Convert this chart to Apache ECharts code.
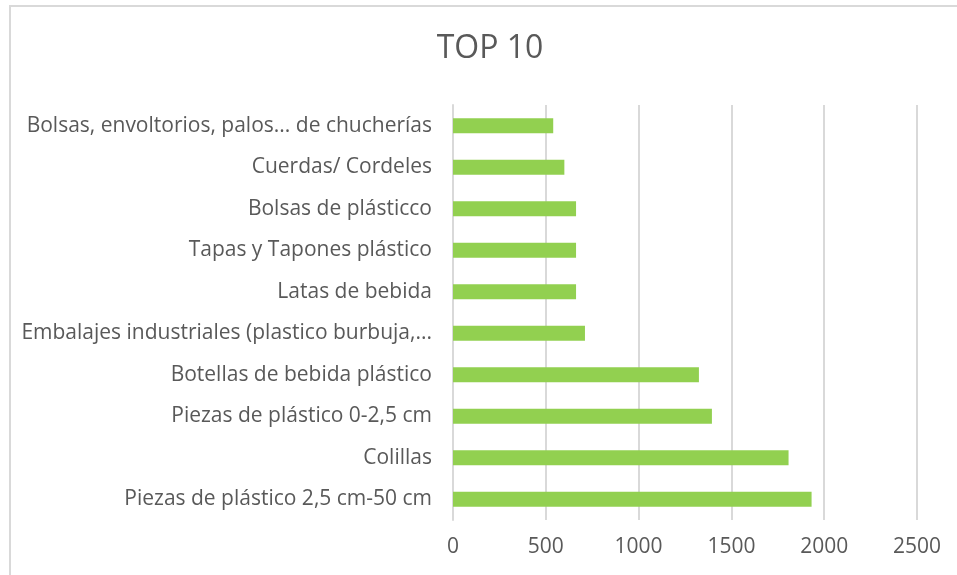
<!DOCTYPE html>
<html>
<head>
<meta charset="utf-8">
<script src="https://cdn.jsdelivr.net/npm/echarts@6/dist/echarts.min.js"></script>
<style>
    html, body { margin: 0; padding: 0; background: #fff; }
    #chart { width: 957px; height: 575px; }
</style>
</head>
<body>
<div id="chart"></div>
<script>
// categorias, de abajo hacia arriba
var categories = [
    'Piezas de plástico 2,5 cm-50 cm',
    'Colillas',
    'Piezas de plástico 0-2,5 cm',
    'Botellas de bebida plástico',
    'Embalajes industriales (plastico burbuja,...',
    'Latas de bebida',
    'Tapas y Tapones plástico',
    'Bolsas de plásticco',
    'Cuerdas/ Cordeles',
    'Bolsas, envoltorios, palos... de chucherías'
];
var values = [1932, 1808, 1395, 1325, 711, 663, 663, 663, 600, 540];
var xTicks = [0, 500, 1000, 1500, 2000, 2500];

var myChart = echarts.init(document.getElementById('chart'));

var option = {
    backgroundColor: '#fff',
    animation: false,
    textStyle: { fontFamily: 'Open Sans' },
    title: {
        text: 'TOP 10',
        left: 485,
        textAlign: 'center',
        top: 28,
        textStyle: { fontFamily: 'Open Sans', fontSize: 32, fontWeight: 'normal', color: '#595959' }
    },
    graphic: [{
        type: 'rect',
        shape: { x: 10, y: 6, width: 960, height: 600 },
        style: { fill: 'none', stroke: '#d9d9d9', lineWidth: 2 },
        silent: true
    }],
    grid: { left: 453, right: 40, top: 105, bottom: 55 },
    xAxis: {
        type: 'value',
        min: xTicks[0],
        max: xTicks[xTicks.length - 1],
        interval: 500,
        axisLine: { show: false },
        axisTick: { show: false },
        splitLine: { lineStyle: { color: '#d9d9d9', width: 2 } },
        axisLabel: {
            color: '#595959', fontSize: 21, margin: 17,
            formatter: function (v) { return String(v); }
        }
    },
    yAxis: {
        type: 'category',
        data: categories,
        axisLine: { show: true, lineStyle: { color: '#d9d9d9', width: 2 } },
        axisTick: { show: false },
        axisLabel: { color: '#595959', fontSize: 21, margin: 21 }
    },
    series: [{
        type: 'bar',
        data: values,
        barWidth: 15,
        itemStyle: { color: '#92D050' }
    }]
};

myChart.setOption(option);
</script>
</body>
</html>
